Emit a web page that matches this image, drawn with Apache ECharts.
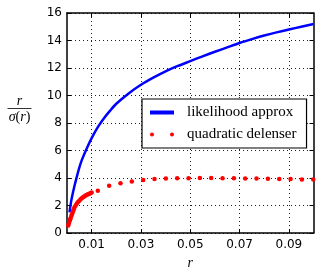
<!DOCTYPE html>
<html><head><meta charset="utf-8">
<script src="https://cdn.jsdelivr.net/npm/echarts@6/dist/echarts.min.js"></script>
<style>html,body{margin:0;padding:0;background:#fff}#c{width:321px;height:277px}</style>
</head><body><div id="c"></div>
<script>
// ---- data ----
var likelihoodR = [0.001,0.0015,0.002,0.003,0.004,0.005,0.006,0.008,0.01,0.0125,0.015,0.0175,0.02,0.025,0.03,0.035,0.04,0.045,0.05,0.055,0.06,0.065,0.07,0.075,0.08,0.085,0.09,0.095,0.1];
var likelihoodV = [1.5,2.1,2.6,3.4,4.1,4.75,5.3,6.15,6.9,7.7,8.35,8.9,9.4,10.15,10.78,11.3,11.76,12.15,12.5,12.85,13.18,13.5,13.82,14.1,14.36,14.59,14.8,15.0,15.2];
var quadR = [0.0005,0.00075,0.001,0.00125,0.0015,0.00175,0.002,0.00225,0.0025,0.00275,0.003,0.0035,0.004,0.0045,0.005,0.0055,0.006,0.0065,0.007,0.0075,0.008,0.0085,0.009,0.0095,0.01,
  0.0125,0.0171,0.0217,0.0263,0.0309,0.0355,0.0401,0.0447,0.0493,0.0539,0.0585,0.0631,0.0677,0.0723,0.0769,0.0815,0.0861,0.0907,0.0953,0.0999];
var quadV = [0.55,0.7,0.85,0.98,1.1,1.23,1.35,1.48,1.6,1.72,1.85,2.0,2.15,2.25,2.35,2.45,2.52,2.6,2.66,2.72,2.77,2.82,2.86,2.9,2.94,
  3.08,3.43,3.62,3.75,3.85,3.92,3.96,3.98,3.99,4.0,4.0,3.99,3.98,3.97,3.96,3.94,3.93,3.92,3.9,3.89];
var xTicks = [0.01,0.03,0.05,0.07,0.09];
var xTickLabels = ['0.01','0.03','0.05','0.07','0.09'];
var seriesNames = ['likelihood approx','quadratic delenser'];

function zip(a,b){return a.map(function(v,i){return [v,b[i]];});}

var chart = echarts.init(document.getElementById('c'), null, {renderer:'canvas'});
var tickFont = {fontFamily:'DejaVu Sans', fontSize:12, color:'#000'};
var dotted = {color:'#222', width:1, type:[1,3]};
var axLine = {color:'#000', width:1.5};
var option = {
  animation:false,
  backgroundColor:'#fff',
  grid:{left:67, top:13, right:7.5, bottom:44, containLabel:false},
  xAxis:[{
    type:'value', min:0, max:0.1, position:'bottom',
    name:'r', nameLocation:'middle', nameGap:21,
    nameTextStyle:{fontFamily:'Liberation Serif', fontStyle:'italic', fontSize:14, color:'#000'},
    axisLine:{show:true, onZero:false, lineStyle:axLine},
    axisTick:{show:true, inside:true, length:4, customValues:xTicks, lineStyle:{color:'#000'}},
    axisLabel:Object.assign({margin:6, customValues:xTicks, formatter:function(v){
      for(var i=0;i<xTicks.length;i++){ if(Math.abs(v-xTicks[i])<1e-9) return xTickLabels[i]; } return ''; }}, tickFont),
    splitLine:{show:true, lineStyle:dotted}
  },{
    type:'value', min:0, max:0.1, position:'top',
    axisLine:{show:true, onZero:false, lineStyle:axLine},
    axisTick:{show:true, inside:true, length:4, customValues:xTicks, lineStyle:{color:'#000'}},
    axisLabel:{show:false}, splitLine:{show:false}
  }],
  yAxis:[{
    type:'value', min:0, max:16, interval:2, position:'left',
    axisLine:{show:true, onZero:false, lineStyle:axLine},
    axisTick:{show:true, inside:true, length:4, lineStyle:{color:'#000'}},
    axisLabel:Object.assign({margin:5}, tickFont),
    splitLine:{show:true, lineStyle:dotted}
  },{
    type:'value', min:0, max:16, interval:2, position:'right',
    axisLine:{show:true, onZero:false, lineStyle:axLine},
    axisTick:{show:true, inside:true, length:4, lineStyle:{color:'#000'}},
    axisLabel:{show:false}, splitLine:{show:false}
  }],
  legend:{
    left:142, top:99, orient:'vertical',
    backgroundColor:'#fff', borderColor:'#000', borderWidth:1.2, borderRadius:0,
    padding:[6,10,6,8], itemGap:7, itemWidth:24, itemHeight:4,
    textStyle:{fontFamily:'Liberation Serif', fontSize:15, color:'#000', padding:[0,0,0,8]},
    data:[
      {name:seriesNames[0], icon:'rect', itemStyle:{color:'#0000ff'}},
      {name:seriesNames[1], icon:'path://M0,2a2,2 0 1,0 4,0a2,2 0 1,0 -4,0M20,2a2,2 0 1,0 4,0a2,2 0 1,0 -4,0', itemStyle:{color:'#ff0000', opacity:1}}
    ]
  },
  series:[{
    name:seriesNames[0], type:'line', data:zip(likelihoodR, likelihoodV),
    showSymbol:false, symbol:'none', smooth:0.25, lineStyle:{color:'#0000ff', width:2.5}, itemStyle:{color:'#0000ff'}, z:3
  },{
    name:seriesNames[1], type:'scatter', data:zip(quadR, quadV),
    symbol:'circle', symbolSize:4.5, itemStyle:{color:'#ff0000', opacity:1}, z:4
  }],
  graphic:[
    {type:'text', x:19.5, y:101, style:{text:'r', font:'italic 14px "Liberation Serif"', fill:'#000', textAlign:'center', textVerticalAlign:'middle'}},
    {type:'line', shape:{x1:7.5, y1:108.5, x2:31.5, y2:108.5}, style:{stroke:'#000', lineWidth:0.8}},
    {type:'text', x:19.5, y:117, style:{text:'{i|σ}{n|(}{i|r}{n|)}', fill:'#000', textAlign:'center', textVerticalAlign:'middle',
      rich:{i:{fontFamily:'Liberation Serif', fontStyle:'italic', fontSize:14}, n:{fontFamily:'Liberation Serif', fontSize:14}}}}
  ]
};
chart.setOption(option);
</script></body></html>
